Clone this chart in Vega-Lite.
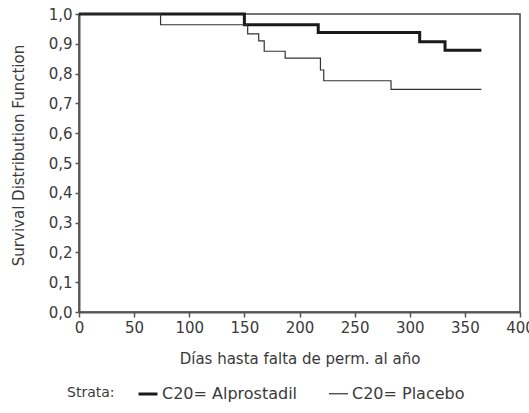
{
  "$schema": "https://vega.github.io/schema/vega-lite/v6.json",
  "width": 441,
  "height": 298,
  "autosize": {"type": "none"},
  "padding": {"left": 79, "top": 14, "right": 9, "bottom": 101},
  "background": "white",
  "config": {
    "font": "DejaVu Sans",
    "view": {"stroke": "#444", "strokeWidth": 1.5}
  },
  "data": {
    "values": [
      {"strata": "C20= Alprostadil", "day": 0, "surv": 1.0},
      {"strata": "C20= Alprostadil", "day": 150, "surv": 0.964},
      {"strata": "C20= Alprostadil", "day": 217, "surv": 0.938},
      {"strata": "C20= Alprostadil", "day": 309, "surv": 0.907},
      {"strata": "C20= Alprostadil", "day": 332, "surv": 0.878},
      {"strata": "C20= Alprostadil", "day": 365, "surv": 0.878},
      {"strata": "C20= Placebo", "day": 0, "surv": 1.0},
      {"strata": "C20= Placebo", "day": 74, "surv": 0.964},
      {"strata": "C20= Placebo", "day": 153, "surv": 0.933},
      {"strata": "C20= Placebo", "day": 163, "surv": 0.91},
      {"strata": "C20= Placebo", "day": 168, "surv": 0.875},
      {"strata": "C20= Placebo", "day": 187, "surv": 0.852},
      {"strata": "C20= Placebo", "day": 219, "surv": 0.812},
      {"strata": "C20= Placebo", "day": 222, "surv": 0.776},
      {"strata": "C20= Placebo", "day": 283, "surv": 0.747},
      {"strata": "C20= Placebo", "day": 365, "surv": 0.747}
    ]
  },
  "mark": {"type": "line", "interpolate": "step-after"},
  "encoding": {
    "x": {
      "field": "day",
      "type": "quantitative",
      "scale": {"domain": [0, 400], "nice": false},
      "axis": {
        "values": [0, 50, 100, 150, 200, 250, 300, 350, 400],
        "title": "Días hasta falta de perm. al año",
        "grid": false,
        "domainColor": "#555",
        "domainWidth": 2,
        "tickColor": "#555",
        "tickSize": 5,
        "tickWidth": 1.5,
        "labelFontSize": 15,
        "labelColor": "#3a3a3a",
        "labelPadding": 3,
        "labelFlush": false,
        "titleFontSize": 15,
        "titleFontWeight": "normal",
        "titleColor": "#3a3a3a",
        "titlePadding": 16
      }
    },
    "y": {
      "field": "surv",
      "type": "quantitative",
      "scale": {"domain": [0, 1], "nice": false},
      "axis": {
        "values": [0, 0.1, 0.2, 0.3, 0.4, 0.5, 0.6, 0.7, 0.8, 0.9, 1.0],
        "labelExpr": "replace(format(datum.value, '.1f'), '.', ',')",
        "title": "Survival Distribution Function",
        "grid": false,
        "domainColor": "#555",
        "domainWidth": 2,
        "tickColor": "#555",
        "tickSize": 4,
        "tickWidth": 1.5,
        "labelFontSize": 15,
        "labelColor": "#3a3a3a",
        "labelPadding": 3,
        "titleFontSize": 15,
        "titleFontWeight": "normal",
        "titleColor": "#3a3a3a",
        "titlePadding": 22,
        "titleY": 141
      }
    },
    "color": {
      "field": "strata",
      "type": "nominal",
      "scale": {"range": ["#1a1a1a", "#333333"]},
      "legend": {
        "title": "Strata:",
        "orient": "none",
        "legendX": -12,
        "legendY": 369,
        "direction": "horizontal",
        "titleOrient": "left",
        "titleFontSize": 14,
        "titleFontWeight": "normal",
        "titleColor": "#3a3a3a",
        "titlePadding": 22,
        "symbolType": "stroke",
        "symbolSize": 361,
        "labelFontSize": 16,
        "labelColor": "#3a3a3a",
        "labelOffset": 3,
        "columnPadding": 28
      }
    },
    "strokeWidth": {
      "field": "strata",
      "type": "nominal",
      "scale": {"range": [3, 1.2]},
      "legend": {
        "title": "Strata:",
        "orient": "none",
        "legendX": -12,
        "legendY": 369,
        "direction": "horizontal",
        "titleOrient": "left",
        "titleFontSize": 14,
        "titleFontWeight": "normal",
        "titleColor": "#3a3a3a",
        "titlePadding": 22,
        "symbolType": "stroke",
        "symbolSize": 361,
        "labelFontSize": 16,
        "labelColor": "#3a3a3a",
        "labelOffset": 3,
        "columnPadding": 28
      }
    }
  }
}
